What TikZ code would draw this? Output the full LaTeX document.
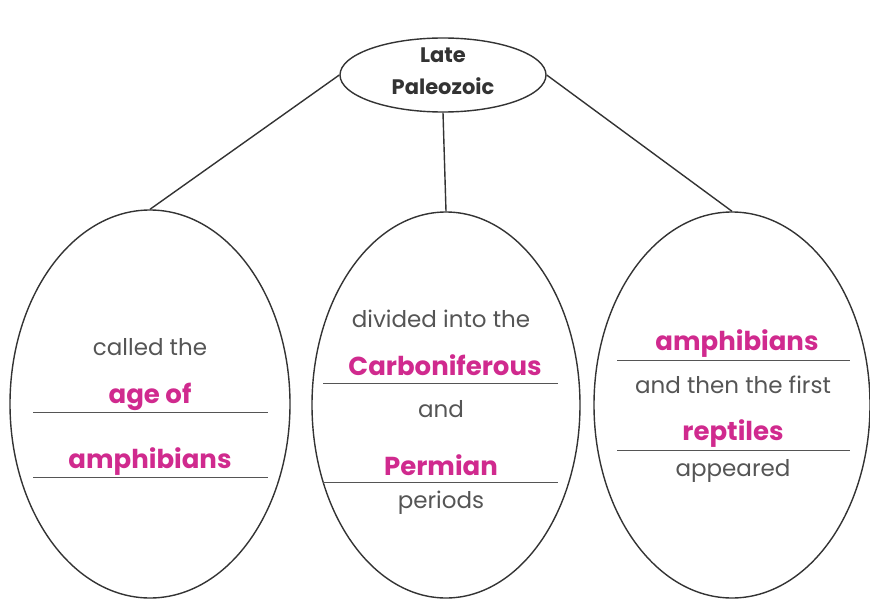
\documentclass[tikz,border=0pt]{standalone}
\usepackage{fontspec}
\setmainfont{Poppins}
\usetikzlibrary{shapes.geometric, positioning}
\definecolor{pinktext}{HTML}{D02A8E}
\definecolor{greytext}{HTML}{555555}
\definecolor{edgegrey}{HTML}{333333}

\begin{document}
\begin{tikzpicture}[x=1pt, y=-1pt, line width=1.4pt,
    oval/.style = {draw=edgegrey, ellipse, inner sep=0pt},
    plain/.style = {anchor=base, text=greytext, font=\fontsize{23}{26}\selectfont},
    key/.style = {anchor=base, text=pinktext, font=\bfseries\fontsize{26}{30}\selectfont},
    rule/.style = {draw=greytext, line width=0.9pt}]

    \useasboundingbox (0,0) rectangle (870,599);

    \node[oval, minimum width=206pt, minimum height=74pt] (top) at (443,75) {};
    \node[align=center, text=black!80, font=\bfseries\fontsize{21}{32}\selectfont,
          anchor=base] (toptext) at (443,95) {Late\\Paleozoic};

    \node[oval, minimum width=280pt, minimum height=388pt] (left) at (150,404) {};
    \node[oval, minimum width=268pt, minimum height=386pt] (mid) at (446,405) {};
    \node[oval, minimum width=276pt, minimum height=386pt] (right) at (732,405) {};

    \draw[draw=edgegrey] (top.west) -- (left.north);
    \draw[draw=edgegrey] (top.south) -- (mid.north);
    \draw[draw=edgegrey] (top.east) -- (right.north);

    % left
    \node[plain] (called) at (150,355) {called the};
    \node[key] (ageof) at (150,403) {age of};
    \node[key] (amph) at (150,468) {amphibians};
    \draw[rule] (33,412) -- (268,412);
    \draw[rule] (33,477) -- (268,477);

    % middle
    \node[plain] (divided) at (441,327) {divided into the};
    \node[key] (carb) at (445,375) {Carboniferous};
    \node[plain] (and) at (441,417) {and};
    \node[key] (perm) at (441,475) {Permian};
    \node[plain] (periods) at (441,508) {periods};
    \draw[rule] (323,383) -- (558,383);
    \draw[rule] (323,482) -- (558,482);

    % right
    \node[key] (amphr) at (737,350) {amphibians};
    \node[plain] (then) at (733,393) {and then the first};
    \node[key] (rept) at (733,440) {reptiles};
    \node[plain] (appeared) at (733,476) {appeared};
    \draw[rule] (617,360) -- (850,360);
    \draw[rule] (617,450) -- (850,450);
\end{tikzpicture}
\end{document}
